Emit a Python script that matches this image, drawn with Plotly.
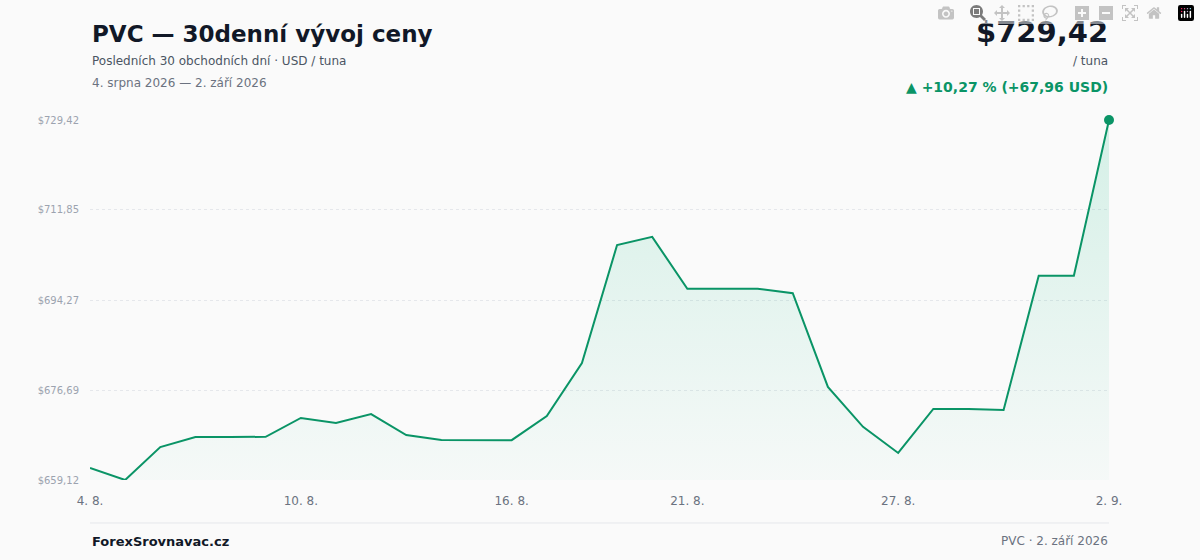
import plotly.graph_objs as go
import pandas as pd

lineColor = '#0a9466'
bgColor = '#fafafa'

dates = pd.date_range('2026-08-04', '2026-09-02', freq='D')
prices = [661.46, 659.12, 665.56, 667.52, 667.52, 667.55, 671.23, 670.25, 672.0, 667.9,
          666.93, 666.93, 666.9, 671.6, 681.97, 705.0, 706.6, 696.45, 696.5, 696.48,
          695.6, 677.3, 669.5, 664.4, 673.0, 673.0, 672.8, 699.0, 699.0, 729.42]
tick_dates = ['2026-08-04', '2026-08-10', '2026-08-16', '2026-08-21', '2026-08-27', '2026-09-02']
tick_text = ['4. 8.', '10. 8.', '16. 8.', '21. 8.', '27. 8.', '2. 9.']
y_ticks = [659.12, 676.69, 694.27, 711.85, 729.42]
y_text = ['$659,12', '$676,69', '$694,27', '$711,85', '$729,42']

fig = go.Figure()
fig.add_trace(go.Scatter(
    x=dates, y=prices, mode='lines', line=dict(color=lineColor, width=2),
    fill='tozeroy',
    fillgradient=dict(type='vertical', start=659.12, stop=729.42,
        colorscale=[[0, 'rgba(16,185,129,0.02)'], [1, 'rgba(16,185,129,0.16)']]),
    showlegend=False, hoverinfo='skip'))
fig.add_trace(go.Scatter(
    x=[dates[-1]], y=[prices[-1]], mode='markers', cliponaxis=False,
    marker=dict(color=lineColor, size=10), showlegend=False))

fig.update_layout(
    width=1200, height=560,
    margin=dict(l=90, r=91, t=120, b=80),
    plot_bgcolor=bgColor, paper_bgcolor=bgColor,
    font=dict(family='DejaVu Sans', color='#6b7280'),
    xaxis=dict(tickvals=pd.to_datetime(tick_dates), ticktext=tick_text,
               range=[dates[0], dates[-1]], showgrid=False, zeroline=False,
               tickfont=dict(size=12, color='#6b7280'), ticks='', ticklabelstandoff=12),
    yaxis=dict(tickvals=y_ticks, ticktext=y_text, range=[659.12, 729.42],
               showgrid=True, gridcolor='#e5e7eb', griddash='dot', zeroline=False,
               tickfont=dict(size=10, color='#9ca3af'), ticks='', ticklabelstandoff=10),
)

anns = [
    dict(text='<b>PVC — 30denní vývoj ceny</b>', x=90, y=34, size=23, color='#111827', anchor='left'),
    dict(text='Posledních 30 obchodních dní · USD / tuna', x=90, y=61, size=12, color='#4b5563', anchor='left'),
    dict(text='4. srpna 2026 — 2. září 2026', x=90, y=83, size=12, color='#6b7280', anchor='left'),
    dict(text='<b>$729,42</b>', x=1110, y=32, size=29, color='#111827', anchor='right'),
    dict(text='/ tuna', x=1110, y=61, size=12, color='#4b5563', anchor='right'),
    dict(text='<b>▲ +10,27 % (+67,96 USD)</b>', x=1110, y=87, size=14, color=lineColor, anchor='right'),
    dict(text='<b>ForexSrovnavac.cz</b>', x=90, y=541, size=13, color='#111827', anchor='left'),
    dict(text='PVC · 2. září 2026', x=1110, y=541, size=12, color='#6b7280', anchor='right'),
]
# pixel positions -> plot-area paper coordinates
for a in anns:
    fig.add_annotation(text=a['text'], x=(a['x'] - 90) / 1019, y=(480 - a['y']) / 360,
                       xref='paper', yref='paper', showarrow=False,
                       xanchor=a['anchor'], yanchor='middle',
                       font=dict(size=a['size'], color=a['color']))

fig.add_shape(type='line', xref='paper', yref='paper', x0=0, x1=1,
              y0=(480 - 523) / 360, y1=(480 - 523) / 360,
              line=dict(color='#e5e7eb', width=1))

fig.write_html("out.html", post_script="document.body.style.margin='0';")
